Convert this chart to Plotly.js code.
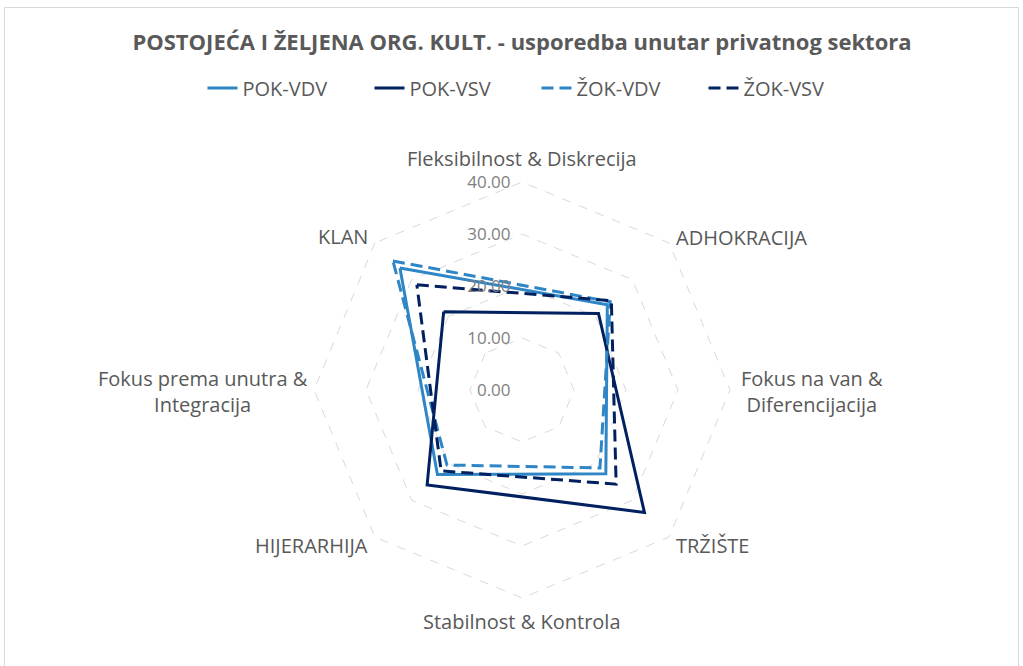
<!DOCTYPE html>
<html>
<head>
<meta charset="utf-8">
<script src="https://cdn.plot.ly/plotly-3.0.1.min.js"></script>
<style>html,body{margin:0;padding:0;background:#fff;}#chart{width:1023px;height:666px;}</style>
</head>
<body>
<div id="chart"></div>
<script>
// Axis categories (clockwise from top)
const categories = [
  "Fleksibilnost & Diskrecija",
  "ADHOKRACIJA",
  "Fokus na van & Diferencijacija",
  "TRŽIŠTE",
  "Stabilnost & Kontrola",
  "HIJERARHIJA",
  "Fokus prema unutra & Integracija",
  "KLAN"
];
// Displayed category labels (line-broken)
const categoryLabels = [
  "Fleksibilnost & Diskrecija",
  "ADHOKRACIJA",
  "Fokus na van &<br>Diferencijacija",
  "TRŽIŠTE",
  "Stabilnost & Kontrola",
  "HIJERARHIJA",
  "Fokus prema unutra &<br>Integracija",
  "KLAN"
];
// Culture types that carry values (closed loop)
const cultureTypes = ["KLAN", "ADHOKRACIJA", "TRŽIŠTE", "HIJERARHIJA", "KLAN"];

const seriesNames = ["POK-VDV", "POK-VSV", "ŽOK-VDV", "ŽOK-VSV"];
const pokVdv = [33.2, 23.2, 22.8, 23.0, 33.2];
const pokVsv = [21.3, 20.8, 33.3, 25.8, 21.3];
const zokVdv = [35.1, 24.0, 21.2, 20.4, 35.1];
const zokVsv = [28.6, 24.3, 25.6, 22.0, 28.6];

const radialTicks = [0, 10, 20, 30, 40];

const lightBlue = "#2F86C6";
const navy = "#002060";
const dashPattern = "12px,6px";
const FONT = "'Open Sans', Lato, sans-serif";

const seriesValues = [pokVdv, pokVsv, zokVdv, zokVsv];
const seriesColors = [lightBlue, navy, lightBlue, navy];
const seriesDash = ["solid", "solid", dashPattern, dashPattern];

const traces = [{
  type: "scatterpolar",
  r: categories.map(() => 0),
  theta: categories,
  mode: "lines",
  line: {width: 0, color: "rgba(0,0,0,0)"},
  showlegend: false,
  hoverinfo: "skip"
}];
seriesNames.forEach((name, i) => {
  traces.push({
    type: "scatterpolar",
    name: name,
    r: seriesValues[i],
    theta: cultureTypes,
    mode: "lines",
    line: {color: seriesColors[i], width: 3, dash: seriesDash[i]},
    hoverinfo: "name+r+theta"
  });
});

const W = 1023, H = 666;
const cx = 522, cy = 390, ringPx = 208;   // 40-ring radius in px
const rMax = 40.5;
const radiusPx = ringPx * rMax / 40;

// Category label placement (offset from each outer vertex, anchors)
const labelStyle = [
  {dx: 0,   dy: -24, xa: "center", ya: "middle"},
  {dx: 5,   dy: -5,  xa: "left",   ya: "middle"},
  {dx: 9,   dy: 2,   xa: "left",   ya: "middle"},
  {dx: 5,   dy: 8,   xa: "left",   ya: "middle"},
  {dx: 0,   dy: 23,  xa: "center", ya: "middle"},
  {dx: -5,  dy: 8,   xa: "right",  ya: "middle"},
  {dx: -4,  dy: 2,   xa: "right",  ya: "middle"},
  {dx: -5,  dy: -6,  xa: "right",  ya: "middle"}
];
const annotations = categoryLabels.map((txt, i) => {
  const ang = (90 - 45 * i) * Math.PI / 180;
  const s = labelStyle[i];
  const px = cx + ringPx * Math.cos(ang) + s.dx;
  const py = cy - ringPx * Math.sin(ang) + s.dy;
  return {
    text: txt, xref: "paper", yref: "paper",
    x: px / W, y: 1 - py / H,
    xanchor: s.xa, yanchor: s.ya, align: "center",
    showarrow: false,
    font: {family: FONT, size: 20, color: "#595959"}
  };
});

const layout = {
  width: W,
  height: H,
  margin: {l: 0, r: 0, t: 0, b: 0},
  paper_bgcolor: "#ffffff",
  font: {family: FONT, color: "#595959"},
  title: {
    text: "<b>POSTOJEĆA I ŽELJENA ORG. KULT. - usporedba unutar privatnog sektora</b>",
    font: {family: FONT, size: 22, color: "#595959"},
    x: 522 / W, xanchor: "center",
    y: 1 - 42 / H, yanchor: "middle"
  },
  showlegend: true,
  legend: {
    orientation: "h",
    x: 0.5 + 25 / W, xanchor: "center",
    y: 1 - 88 / H, yanchor: "middle",
    font: {family: FONT, size: 20, color: "#595959"},
    entrywidth: 122,
    entrywidthmode: "pixels",
    traceorder: "normal"
  },
  polar: {
    domain: {x: [(cx - radiusPx) / W, (cx + radiusPx) / W],
             y: [1 - (cy + radiusPx) / H, 1 - (cy - radiusPx) / H]},
    gridshape: "linear",
    bgcolor: "rgba(0,0,0,0)",
    radialaxis: {
      range: [0, rMax],
      tickvals: radialTicks,
      tickformat: ".2f",
      angle: 90,
      tickangle: 90,
      side: "counterclockwise",
      showline: false,
      ticks: "outside",
      ticklen: 5,
      tickcolor: "rgba(0,0,0,0)",
      showgrid: true,
      gridcolor: "#D9D9D9",
      griddash: "dash",
      gridwidth: 1,
      tickfont: {family: FONT, size: 17, color: "#7F7F7F"}
    },
    angularaxis: {
      type: "category",
      categoryorder: "array",
      categoryarray: categories,
      rotation: 90,
      direction: "clockwise",
      showgrid: false,
      showline: false,
      ticks: "",
      showticklabels: false
    }
  },
  annotations: annotations,
  shapes: [{
    type: "rect", xref: "paper", yref: "paper",
    x0: 4.5 / W, x1: 1018.5 / W,
    y0: -0.05, y1: 1 - 7.5 / H,
    line: {color: "#D9D9D9", width: 1},
    fillcolor: "rgba(0,0,0,0)",
    layer: "below"
  }]
};

Plotly.newPlot("chart", traces, layout, {displayModeBar: false, staticPlot: true});
</script>
</body>
</html>
